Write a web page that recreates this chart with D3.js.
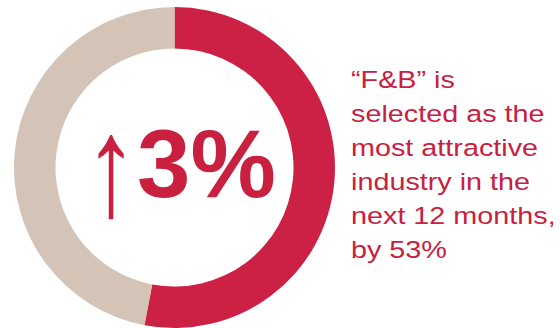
<!DOCTYPE html>
<html>
<head>
<meta charset="utf-8">
<script src="https://cdn.jsdelivr.net/npm/d3@7"></script>
<style>
  html, body { margin: 0; padding: 0; background: #ffffff; }
  svg { display: block; }
</style>
</head>
<body>
<script>
// Share of respondents choosing F&B as the most attractive industry
const segments = ["F&B", "Other"];
const shares = [53, 47];
const segmentColors = ["#cc2044", "#d3c4b7"];

const headline = "3%";
const headlineArrow = "\u2191";
const captionLines = [
  "\u201cF&B\u201d is",
  "selected as the",
  "most attractive",
  "industry in the",
  "next 12 months,",
  "by 53%"
];

const width = 560, height = 328;
const textColor = "#c9203f";

const svg = d3.select("body").append("svg")
  .attr("width", width)
  .attr("height", height);

const cx = 174.5, cy = 167.5;
const outerR = 160.5, innerR = 119;

const pie = d3.pie().sort(null).value(d => d);
const arc = d3.arc().innerRadius(innerR).outerRadius(outerR);

const ring = svg.append("g").attr("transform", `translate(${cx},${cy})`);
ring.selectAll("path")
  .data(pie(shares))
  .join("path")
  .attr("d", arc)
  .attr("fill", (d, i) => segmentColors[i]);

// Centre figure: tall thin arrow + bold percentage
const centre = svg.append("g");
centre.append("text")
  .attr("transform", "translate(84,215) scale(1.12,1.48)")
  .attr("font-family", "'Liberation Sans', Arial, sans-serif")
  .attr("font-size", 96)
  .attr("fill", textColor)
  .text(headlineArrow);

centre.append("text")
  .attr("x", 137)
  .attr("y", 197)
  .attr("font-family", "'Liberation Sans', Arial, sans-serif")
  .attr("font-weight", "bold")
  .attr("font-size", 96)
  .attr("fill", textColor)
  .text(headline);

// Caption on the right, set in a slightly widened face
const caption = svg.append("g")
  .attr("transform", "translate(351,0) scale(1.235,1)");
caption.selectAll("text")
  .data(captionLines)
  .join("text")
  .attr("x", 0)
  .attr("y", (d, i) => 88.3 + i * 33.9)
  .attr("font-family", "'Liberation Sans', Arial, sans-serif")
  .attr("font-size", 23.3)
  .attr("fill", textColor)
  .text(d => d);
</script>
</body>
</html>
